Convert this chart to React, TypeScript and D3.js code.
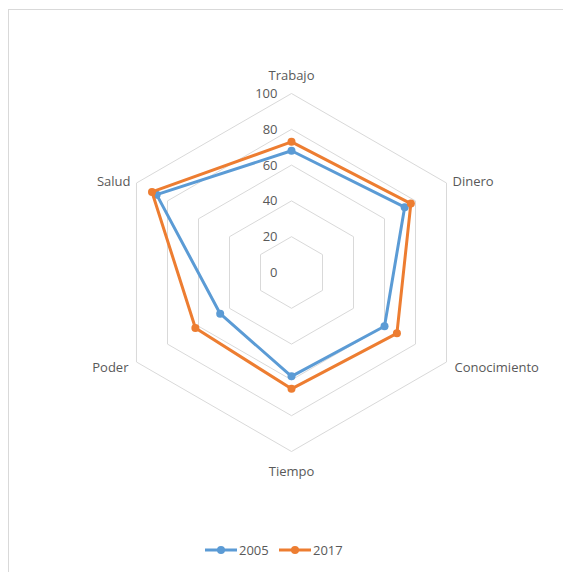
import React from "react";
import * as d3 from "d3";

const categories = ["Trabajo", "Dinero", "Conocimiento", "Tiempo", "Poder", "Salud"];
const seriesNames = ["2005", "2017"];
const values2005 = [68, 73, 60, 58, 46, 87];
const values2017 = [73, 77, 68, 65, 62, 90];
const tickValues = [0, 20, 40, 60, 80, 100];
const colors = ["#5b9bd5", "#ed7d31"];

export default function App() {
  const W = 563, H = 572;
  const cx = 291.5, cy = 272.5, R = 179;
  const r = d3.scaleLinear().domain([0, 100]).range([0, R]);
  const angle = (i: number) => (i * 2 * Math.PI) / categories.length;
  const pt = (i: number, v: number): [number, number] => [
    cx + r(v) * Math.sin(angle(i)),
    cy - r(v) * Math.cos(angle(i)),
  ];
  const font = "'Open Sans', sans-serif";
  const textColor = "#595959";
  const fs = 13;
  const line = d3.line<[number, number]>().curve(d3.curveLinearClosed);
  const data = [values2005, values2017];

  const labelPos = (i: number) => {
    const [x, y] = pt(i, 100);
    const s = Math.sin(angle(i));
    const c = Math.cos(angle(i));
    if (Math.abs(s) < 0.01) {
      return { x, y: c > 0 ? y - 18 : y + 20, anchor: "middle" };
    }
    const lower = c < 0;
    return {
      x: x + (s > 0 ? 1 : -1) * (lower ? 8 : 6),
      y: y + (lower ? 5 : -2),
      anchor: s > 0 ? "start" : "end",
    };
  };

  return (
    <svg width={W} height={H} style={{ position: "absolute", left: 0, top: 0 }}>
      <rect x={0} y={0} width={W} height={H} fill="#fff" />
      <rect x={8.5} y={9.5} width={700} height={700} fill="none" stroke="#d9d9d9" strokeWidth={1} />
      {tickValues.slice(1).map((t) => (
        <path
          key={t}
          d={line(categories.map((_, i) => pt(i, t)))!}
          fill="none"
          stroke="#d9d9d9"
          strokeWidth={1}
        />
      ))}
      {tickValues.map((t) => (
        <text
          key={t}
          x={cx - 14}
          y={cy - r(t)}
          dy="0.35em"
          textAnchor="end"
          fontFamily={font}
          fontSize={fs}
          fill={textColor}
        >
          {t}
        </text>
      ))}
      {categories.map((c, i) => {
        const p = labelPos(i);
        return (
          <text
            key={c}
            x={p.x}
            y={p.y}
            dy="0.35em"
            textAnchor={p.anchor as any}
            fontFamily={font}
            fontSize={fs}
            fill={textColor}
          >
            {c}
          </text>
        );
      })}
      {data.map((vals, si) => (
        <g key={si}>
          <path
            d={line(vals.map((v, i) => pt(i, v)))!}
            fill="none"
            stroke={colors[si]}
            strokeWidth={3}
            strokeLinejoin="round"
          />
          {vals.map((v, i) => {
            const [x, y] = pt(i, v);
            return <circle key={i} cx={x} cy={y} r={4} fill={colors[si]} />;
          })}
        </g>
      ))}
      {seriesNames.map((n, si) => {
        const x0 = 205 + si * 74;
        const y0 = 550;
        return (
          <g key={n}>
            <line x1={x0} x2={x0 + 32} y1={y0} y2={y0} stroke={colors[si]} strokeWidth={3} />
            <circle cx={x0 + 16} cy={y0} r={4} fill={colors[si]} />
            <text
              x={x0 + 34}
              y={y0}
              dy="0.35em"
              fontFamily={font}
              fontSize={fs}
              fill={textColor}
            >
              {n}
            </text>
          </g>
        );
      })}
    </svg>
  );
}
